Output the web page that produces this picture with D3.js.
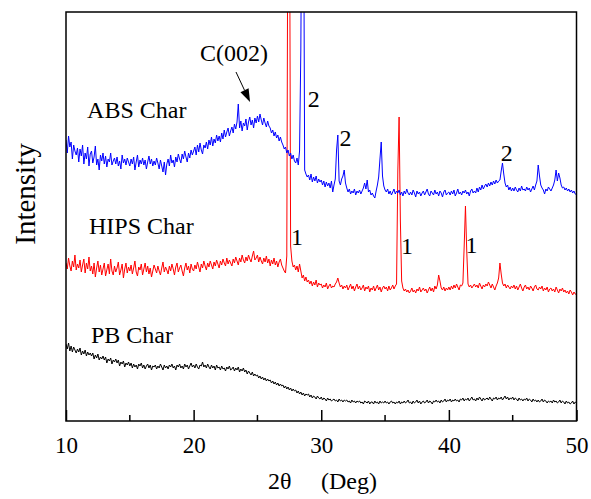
<!DOCTYPE html>
<html>
<head>
<meta charset="utf-8">
<script src="https://cdn.jsdelivr.net/npm/d3@7"></script>
<style>
  body { margin: 0; background: #fff; }
</style>
</head>
<body>
<script>
// 2theta grid: 10 to 50 deg, step 0.1 (one row below = 1 deg)
const thetaStart = 10;
const thetaEnd = 50;

// intensities (a.u., already offset as stacked in the figure)
const absChar = [
  281, 268, 285, 274, 279, 262, 276, 270, 266, 273,
  259, 272, 265, 276, 257, 268, 262, 274, 255, 267,
  270, 258, 264, 275, 256, 262, 251, 266, 260, 268,
  257, 265, 254, 262, 259, 268, 256, 260, 263, 257,
  264, 255, 260, 252, 266, 258, 262, 256, 263, 259,
  255, 262, 257, 264, 251, 259, 266, 254, 261, 257,
  263, 256, 261, 252, 259, 265, 257, 262, 255, 260,
  256, 263, 258, 252, 261, 255, 249, 259, 246, 257,
  262, 255, 266, 258, 261, 254, 264, 259, 267, 262,
  258, 267, 262, 270, 264, 259, 268, 263, 271, 266,
  270, 274, 266, 276, 269, 278, 271, 267, 276, 273,
  279, 272, 281, 276, 284, 275, 282, 278, 286, 280,
  285, 279, 288, 282, 291, 284, 289, 293, 285, 290,
  294, 288, 297, 292, 299, 317, 293, 300, 290, 298,
  295, 302, 291, 299, 304, 296, 301, 293, 303, 298,
  305, 299, 307, 301, 296, 303, 298, 294, 300, 295,
  293, 288, 291, 285, 289, 283, 286, 280, 284, 279,
  276, 272, 274, 268, 271, 265, 268, 262, 266, 260,
  258, 263, 256, 270, 371, 600, 600, 251, 247, 244,
  246, 241, 247, 239, 244, 240, 245, 238, 242, 239,
  241, 236, 240, 234, 239, 235, 238, 233, 240, 229,
  236, 242, 271, 286, 240, 236, 242, 245, 251, 238,
  233, 229, 232, 227, 230, 228, 232, 226, 230, 228,
  231, 227, 230, 233, 238, 232, 241, 229, 231, 226,
  228, 225, 223, 230, 236, 244, 262, 279, 245, 235,
  231, 229, 232, 227, 230, 226, 229, 232, 227, 230,
  228, 231, 226, 229, 225, 230, 227, 232, 228, 226,
  229, 226, 231, 228, 224, 230, 227, 229, 225, 228,
  230, 226, 229, 232, 227, 225, 230, 228, 226, 231,
  227, 229, 225, 230, 228, 224, 229, 231, 226, 228,
  229, 226, 230, 227, 231, 225, 228, 232, 227, 229,
  226, 230, 228, 231, 227, 229, 225, 230, 232, 228,
  230, 228, 233, 229, 234, 231, 236, 232, 235, 237,
  234, 238, 235, 239, 236, 240, 237, 241, 238, 240,
  241, 250, 258, 247, 238, 234, 236, 231, 234, 230,
  233, 230, 234, 231, 229, 233, 230, 235, 231, 232,
  230, 234, 231, 233, 229, 232, 235, 231, 236, 240,
  256, 245, 236, 233, 231, 227, 232, 230, 234, 232,
  230, 233, 236, 241, 251, 240, 248, 243, 236, 233,
  234, 231, 233, 230, 232, 229, 231, 228, 230, 227,
  226
];

const hipsChar = [
  158, 152, 163, 155, 150, 160, 154, 166, 151, 157,
  153, 161, 149, 156, 162, 148, 158, 152, 164, 150,
  155, 147, 158, 144, 153, 160, 149, 156, 146, 152,
  158, 145, 151, 157, 147, 162, 150, 146, 155, 149,
  153, 159, 146, 151, 157, 143, 152, 158, 148, 154,
  150, 156, 147, 153, 160, 149, 145, 154, 151, 157,
  146, 152, 158, 149, 155, 147, 153, 144, 150, 156,
  152, 148, 155, 150, 146, 153, 159, 149, 154, 151,
  147, 155, 150, 157, 152, 146, 154, 158, 149, 153,
  156, 150, 145, 153, 158, 151, 155, 148, 157, 152,
  150, 156, 152, 159, 154, 149, 157, 153, 160, 155,
  151, 158, 154, 160, 156, 152, 159, 155, 161, 157,
  153, 160, 156, 162, 158, 155, 163, 157, 161, 158,
  155, 162, 158, 164, 160, 156, 163, 159, 166, 161,
  158, 164, 160, 166, 162, 159, 165, 170, 161, 163,
  166, 159, 164, 160, 157, 163, 159, 165, 158, 162,
  155, 161, 157, 163, 156, 160, 154, 159, 162, 156,
  153, 150, 148, 165, 600, 600, 175, 160, 154, 156,
  151, 155, 149, 157, 150, 143, 146, 140, 144, 139,
  141, 137, 140, 135, 139, 136, 141, 134, 138, 136,
  137, 133, 136, 134, 138, 132, 135, 137, 133, 135,
  134, 137, 139, 143, 138, 134, 136, 132, 135, 133,
  136, 131, 134, 137, 132, 135, 130, 134, 137, 132,
  135, 131, 133, 136, 130, 134, 132, 135, 129, 133,
  131, 135, 130, 133, 136, 131, 134, 129, 133, 135,
  132, 134, 130, 135, 131, 133, 136, 132, 135, 137,
  250, 304, 200, 140, 133, 130, 132, 129, 131, 128,
  130, 133, 129, 131, 128, 132, 130, 134, 129, 131,
  133, 130, 132, 128, 131, 134, 130, 133, 129, 135,
  132, 136, 146, 140, 133, 131, 134, 130, 133, 131,
  134, 131, 135, 132, 136, 133, 137, 134, 131, 136,
  135, 138, 175, 215, 170, 137, 134, 136, 133, 135,
  137, 134, 136, 133, 138, 135, 132, 136, 134, 137,
  135, 139, 136, 133, 137, 134, 131, 135, 138, 143,
  158, 147, 138, 135, 137, 133, 136, 134, 132, 135,
  133, 136, 132, 135, 131, 134, 137, 133, 130, 134,
  136, 132, 134, 131, 135, 133, 130, 134, 136, 132,
  131, 134, 132, 135, 130, 133, 131, 134, 129, 132,
  133, 130, 132, 129, 134, 131, 128, 132, 130, 133,
  129, 131, 128, 130, 127, 131, 129, 126, 129, 127,
  126
];

const pbChar = [
  77, 72, 78, 70, 75, 69, 74, 71, 68, 72,
  69, 73, 66, 70, 67, 71, 65, 69, 66, 68,
  65, 68, 62, 66, 63, 67, 61, 64, 62, 65,
  61, 64, 58, 62, 60, 63, 57, 61, 59, 62,
  58, 61, 55, 59, 57, 60, 54, 58, 56, 59,
  55, 58, 53, 57, 54, 56, 52, 57, 55, 58,
  53, 56, 52, 55, 57, 53, 56, 51, 55, 54,
  56, 52, 55, 53, 57, 54, 51, 56, 53, 55,
  52, 56, 54, 57, 53, 55, 51, 56, 54, 57,
  53, 55, 52, 57, 54, 56, 52, 55, 58, 54,
  56, 53, 57, 54, 52, 56, 55, 59, 54, 56,
  53, 57, 54, 52, 56, 53, 55, 51, 56, 53,
  54, 51, 55, 52, 53, 50, 54, 52, 55, 51,
  52, 54, 50, 53, 51, 54, 49, 52, 50, 53,
  49, 51, 47, 50, 48, 46, 49, 45, 47, 45,
  46, 43, 45, 42, 44, 41, 43, 40, 42, 40,
  41, 38, 40, 37, 39, 36, 38, 35, 37, 35,
  36, 33, 35, 32, 34, 31, 33, 30, 32, 30,
  31, 28, 30, 27, 29, 26, 28, 25, 27, 26,
  27, 24, 26, 23, 25, 24, 22, 25, 23, 22,
  24, 21, 23, 22, 20, 23, 21, 22, 20, 21,
  22, 20, 21, 19, 22, 20, 21, 19, 21, 20,
  21, 19, 20, 18, 21, 19, 20, 18, 20, 19,
  20, 18, 19, 17, 20, 19, 18, 20, 17, 19,
  19, 17, 20, 18, 19, 17, 20, 18, 19, 18,
  20, 18, 19, 17, 19, 20, 18, 19, 17, 19,
  18, 20, 17, 19, 18, 20, 18, 19, 21, 18,
  19, 17, 20, 18, 19, 21, 18, 20, 17, 19,
  20, 18, 19, 21, 18, 20, 19, 17, 20, 19,
  21, 19, 20, 18, 21, 19, 20, 22, 19, 21,
  20, 22, 19, 21, 20, 22, 20, 21, 19, 22,
  21, 23, 20, 22, 21, 23, 20, 22, 24, 21,
  22, 20, 23, 21, 24, 22, 20, 23, 21, 22,
  23, 21, 24, 22, 20, 23, 22, 24, 21, 23,
  22, 24, 21, 23, 25, 22, 24, 21, 23, 22,
  24, 21, 23, 22, 20, 23, 21, 22, 20, 22,
  21, 23, 20, 22, 21, 19, 22, 20, 21, 19,
  21, 19, 20, 22, 19, 21, 20, 18, 20, 19,
  20, 18, 21, 19, 20, 18, 19, 21, 18, 20,
  19, 17, 20, 18, 19, 17, 18, 20, 17, 19,
  18
];

const majorTicks = [10, 20, 30, 40, 50];
const minorTicks = [15, 25, 35, 45];

// text marks, given in data coordinates [2theta, intensity]
const curveLabels = [
  { text: "ABS Char", at: [11.65, 303.5] },
  { text: "HIPS Char", at: [11.8, 187.5] },
  { text: "PB Char", at: [11.96, 78] }
];
const peakLabels = [
  { text: "2", at: [29.41, 314.5] },
  { text: "2", at: [31.9, 275] },
  { text: "2", at: [44.54, 260.5] },
  { text: "1", at: [28.1, 176] },
  { text: "1", at: [36.72, 167] },
  { text: "1", at: [41.78, 168.5] }
];
const carbonLabel = { text: "C(002)", at: [20.5, 360] };
const carbonArrow = { from: [23.32, 349], to: [24.42, 319] };

const width = 591;
const height = 499;
const margin = { top: 12, right: 14.5, bottom: 78, left: 66 };
const font = "'Liberation Serif', 'Times New Roman', serif";

const svg = d3.select("body").append("svg")
    .attr("width", width)
    .attr("height", height)
    .attr("font-family", font);

const x = d3.scaleLinear()
    .domain([thetaStart, thetaEnd])
    .range([margin.left, width - margin.right]);

const y = d3.scaleLinear()
    .domain([0, 409])
    .range([height - margin.bottom, margin.top]);

const toPoints = vals => vals.map((v, i) =>
    [thetaStart + i * (thetaEnd - thetaStart) / (vals.length - 1), v]);

svg.append("clipPath")
    .attr("id", "plot-clip")
  .append("rect")
    .attr("x", x(thetaStart))
    .attr("y", y(409))
    .attr("width", x(thetaEnd) - x(thetaStart))
    .attr("height", y(0) - y(409));

const line = d3.line()
    .x(d => x(d[0]))
    .y(d => y(d[1]));

const series = [
  { values: pbChar, color: "#000000" },
  { values: hipsChar, color: "#ff0000" },
  { values: absChar, color: "#0000ff" }
];

svg.append("g")
    .attr("clip-path", "url(#plot-clip)")
  .selectAll("path")
  .data(series)
  .join("path")
    .attr("fill", "none")
    .attr("stroke", d => d.color)
    .attr("stroke-width", 1)
    .attr("stroke-linejoin", "round")
    .attr("d", d => line(toPoints(d.values)));

// frame
svg.append("rect")
    .attr("x", x(thetaStart))
    .attr("y", y(409))
    .attr("width", x(thetaEnd) - x(thetaStart))
    .attr("height", y(0) - y(409))
    .attr("fill", "none")
    .attr("stroke", "#000")
    .attr("stroke-width", 1.5);

// bottom axis, ticks pointing inward
const axis = svg.append("g")
    .attr("transform", `translate(0,${y(0)})`)
    .call(d3.axisBottom(x).tickValues(majorTicks).tickSize(-11).tickPadding(16).tickFormat(d3.format("d")));
axis.select(".domain").remove();
axis.selectAll("line").attr("stroke-width", 1.5);
axis.selectAll("text")
    .attr("font-family", font)
    .attr("font-size", 23)
    .attr("fill", "#000");

svg.append("g")
  .selectAll("line")
  .data(minorTicks)
  .join("line")
    .attr("x1", d => x(d)).attr("x2", d => x(d))
    .attr("y1", y(0)).attr("y2", y(0) - 6)
    .attr("stroke", "#000")
    .attr("stroke-width", 1.5);

// axis titles
svg.append("text")
    .attr("y", 489)
    .attr("font-size", 24)
    .call(t => t.append("tspan").attr("x", 268).text("2θ"))
    .call(t => t.append("tspan").attr("x", 321).text("(Deg)"));

svg.append("text")
    .attr("transform", "translate(35,194) rotate(-90)")
    .attr("text-anchor", "middle")
    .attr("font-size", 29)
    .text("Intensity");

// curve names
svg.append("g")
  .selectAll("text")
  .data(curveLabels)
  .join("text")
    .attr("x", d => x(d.at[0]))
    .attr("y", d => y(d.at[1]))
    .attr("font-size", 24)
    .text(d => d.text);

// peak markers
svg.append("g")
  .selectAll("text")
  .data(peakLabels)
  .join("text")
    .attr("x", d => x(d.at[0]))
    .attr("y", d => y(d.at[1]))
    .attr("text-anchor", "middle")
    .attr("font-size", 24)
    .text(d => d.text);

svg.append("text")
    .attr("x", x(carbonLabel.at[0]))
    .attr("y", y(carbonLabel.at[1]))
    .attr("font-size", 24)
    .text(carbonLabel.text);

// arrow to the C(002) hump
const ax0 = x(carbonArrow.from[0]), ay0 = y(carbonArrow.from[1]);
const ax1 = x(carbonArrow.to[0]), ay1 = y(carbonArrow.to[1]);
const ang = Math.atan2(ay1 - ay0, ax1 - ax0);
const headLen = 13, headW = 4.5;
const bx = ax1 - headLen * Math.cos(ang), by = ay1 - headLen * Math.sin(ang);

svg.append("line")
    .attr("x1", ax0).attr("y1", ay0)
    .attr("x2", bx).attr("y2", by)
    .attr("stroke", "#000")
    .attr("stroke-width", 1);

svg.append("path")
    .attr("d", `M${ax1},${ay1}
      L${bx + headW * Math.sin(ang)},${by - headW * Math.cos(ang)}
      L${bx - headW * Math.sin(ang)},${by + headW * Math.cos(ang)}Z`)
    .attr("fill", "#000");
</script>
</body>
</html>
